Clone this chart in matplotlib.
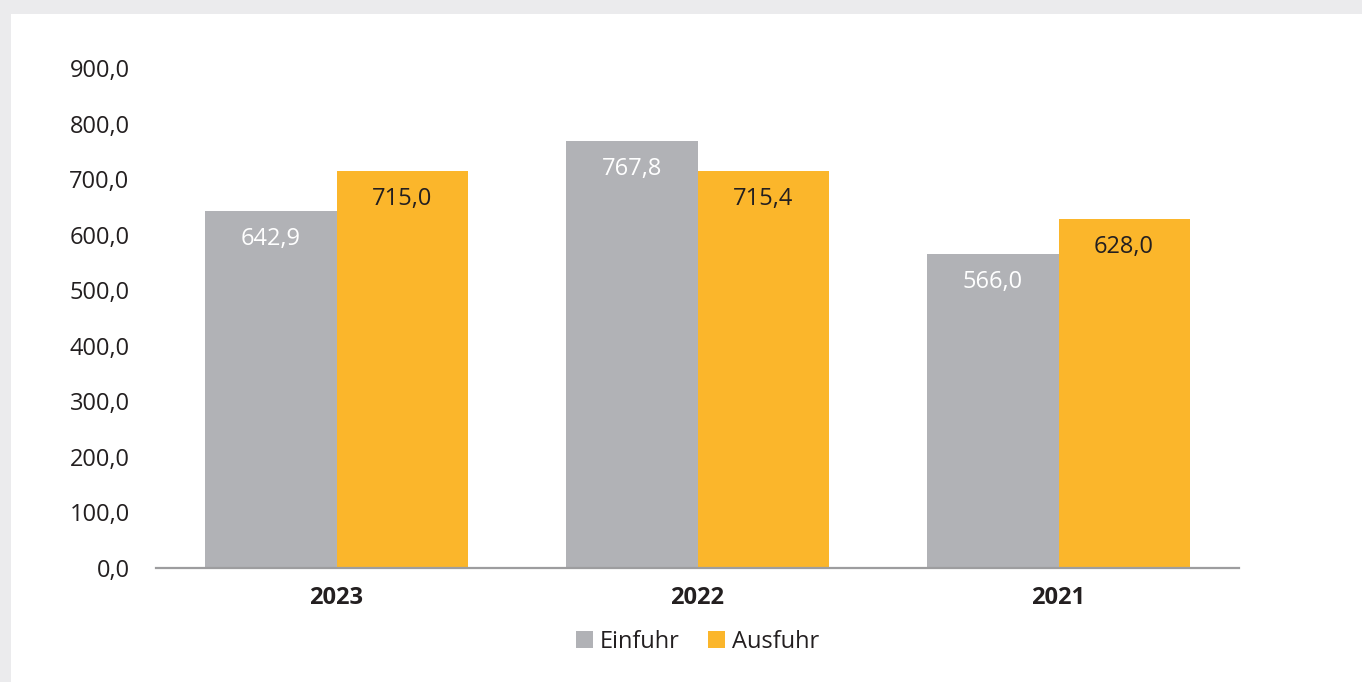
import numpy as np
import matplotlib.pyplot as plt
from matplotlib.patches import Rectangle

# ===== Daten =====
jahre = ["2023", "2022", "2021"]
einfuhr = [642.9, 767.8, 566.0]
ausfuhr = [715.0, 715.4, 628.0]
yticks = [0, 100, 200, 300, 400, 500, 600, 700, 800, 900]

grau = "#b1b2b6"
gelb = "#fbb62b"
text_col = "#231f20"

plt.rcParams.update({'font.family': ['Open Sans', 'DejaVu Sans'], 'font.size': 17})

fig = plt.figure(figsize=(13.62, 6.82), dpi=100, facecolor="#ebebed")
# weißes Panel hinter den Achsen
fig.patches.append(Rectangle((11 / 1362, 0), 1, 1 - 14 / 682, transform=fig.transFigure,
                             facecolor="white", edgecolor="none", zorder=-10))
ax = fig.add_axes([156 / 1362, 1 - 568 / 682, 1083 / 1362, 500 / 682])
ax.set_facecolor("none")
ax.set_zorder(5)

x = np.arange(len(jahre))
w = 0.363
b1 = ax.bar(x - w / 2, einfuhr, w, color=grau, label="Einfuhr", zorder=2)
b2 = ax.bar(x + w / 2, ausfuhr, w, color=gelb, label="Ausfuhr", zorder=2)

def fmt(v):
    return f"{v:.1f}".replace(".", ",")

for rect, v in zip(b1, einfuhr):
    ax.annotate(fmt(v), (rect.get_x() + rect.get_width() / 2, v), xytext=(0, -28),
                textcoords="offset pixels", ha="center", va="center", color="white", fontsize=17)
for rect, v in zip(b2, ausfuhr):
    ax.annotate(fmt(v), (rect.get_x() + rect.get_width() / 2, v), xytext=(0, -28),
                textcoords="offset pixels", ha="center", va="center", color=text_col, fontsize=17)

ax.set_xlim(-0.5, 2.5)
ax.set_ylim(0, 900)
ax.set_yticks(yticks)
ax.set_yticklabels([fmt(v) for v in yticks], color=text_col)
ax.set_xticks(x)
ax.set_xticklabels(jahre, fontweight="bold", color=text_col)
ax.tick_params(axis="y", length=0, pad=19)
ax.tick_params(axis="x", length=0, pad=13)
for s in ["top", "right", "left"]:
    ax.spines[s].set_visible(False)
ax.spines["bottom"].set_color("#9d9d9f")
ax.spines["bottom"].set_linewidth(1.6)
ax.spines["bottom"].set_zorder(3)

ax.legend(loc="center", bbox_to_anchor=(0.5, -0.147), ncol=2, frameon=False,
          handlelength=0.7, handleheight=0.7, handletextpad=0.3, columnspacing=1.2,
          fontsize=17, labelcolor=text_col)

fig.savefig("out.png", dpi=100, facecolor=fig.get_facecolor())
